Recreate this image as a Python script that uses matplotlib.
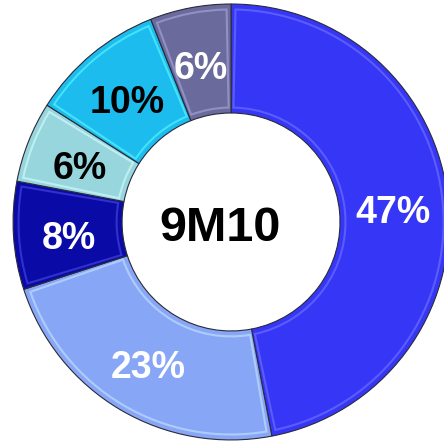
import numpy as np
import matplotlib.pyplot as plt
from matplotlib.patches import Wedge
from matplotlib.colors import to_rgb

# data
shares = [47, 23, 8, 6, 10, 6]
labels = ['47%', '23%', '8%', '6%', '10%', '6%']
colours = ['#3636f6', '#88a6f6', '#0a0aa6', '#98d6de', '#1cbcee', '#6a6a9c']
text_cols = ['white', 'white', 'white', 'black', 'black', 'white']
centre_text = '9M10'

fig = plt.figure(figsize=(4.44, 4.42), dpi=100)
ax = fig.add_axes([0, 0, 1, 1])

wedges, texts = ax.pie(shares, colors=colours, startangle=90, counterclock=False,
                       radius=1.0,
                       wedgeprops=dict(width=0.5, edgecolor='#2a2a3a', linewidth=0.8))

# soft bevel: lighter inset outline on each slice
for w, c in zip(wedges, colours):
    light = tuple(min(1, v + 0.25) for v in to_rgb(c))
    bev = Wedge((0, 0), 0.975, w.theta1 + 1.2, w.theta2 - 1.2, width=0.45,
                facecolor='none', edgecolor=light, linewidth=1.5, alpha=0.6)
    ax.add_patch(bev)

# labels in the middle of the ring
for w, lab, tc in zip(wedges, labels, text_cols):
    mid = np.deg2rad((w.theta1 + w.theta2) / 2)
    r = 0.745
    ax.text(r * np.cos(mid), r * np.sin(mid) - 0.03, lab, ha='center', va='center',
            color=tc, fontsize=27, fontweight='bold', family='Liberation Sans')

ax.text(-0.05, -0.03, centre_text, ha='center', va='center', color='black',
        fontsize=35, fontweight='bold', family='Liberation Sans')

ax.set_xlim(-1.06, 0.977)
ax.set_ylim(-1.009, 1.018)
ax.set_aspect('equal')
ax.axis('off')

fig.savefig('out.png', dpi=100)
